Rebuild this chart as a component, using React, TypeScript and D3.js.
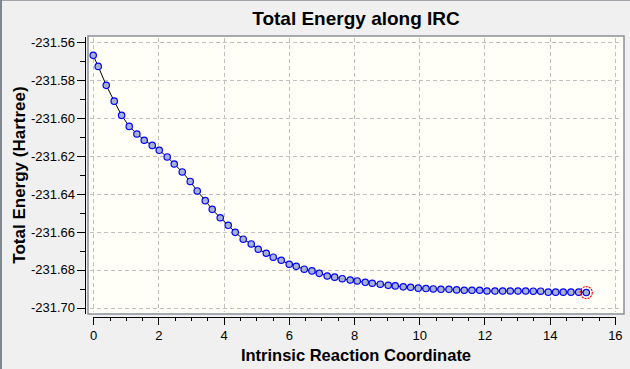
import React from "react";
import * as d3 from "d3";

const W = 630;
const H = 369;

// IRC coordinate and total energy (Hartree)
const coords = [
  0.0, 0.153, 0.399, 0.644, 0.871, 1.104, 1.34, 1.564, 1.81, 2.025, 2.27,
  2.485, 2.73, 2.975, 3.19, 3.436, 3.65, 3.896, 4.141, 4.356, 4.601, 4.847,
  5.061, 5.307, 5.521, 5.767, 6.012, 6.227, 6.472, 6.709, 6.933, 7.178, 7.405,
  7.638, 7.883, 8.098, 8.344, 8.558, 8.804, 9.049, 9.264, 9.509, 9.736, 9.969,
  10.206, 10.429, 10.666, 10.911, 11.147, 11.38, 11.617, 11.853, 12.077,
  12.322, 12.558, 12.791, 13.028, 13.264, 13.497, 13.724, 13.957, 14.184,
  14.417, 14.653, 14.89, 15.123,
];
const energies = [
  -231.567, -231.5728, -231.5828, -231.5911, -231.5986, -231.6044, -231.6084,
  -231.6117, -231.6144, -231.617, -231.6205, -231.6242, -231.6284, -231.6334,
  -231.6384, -231.6435, -231.6481, -231.6525, -231.6565, -231.6602, -231.6638,
  -231.6663, -231.6691, -231.6712, -231.6733, -231.6749, -231.677, -231.6781,
  -231.6796, -231.6805, -231.6818, -231.6832, -231.6838, -231.6846, -231.6853,
  -231.6858, -231.6865, -231.687, -231.6875, -231.6881, -231.6884, -231.6889,
  -231.6891, -231.6896, -231.6898, -231.69, -231.6902, -231.6902, -231.6905,
  -231.6907, -231.6907, -231.6907, -231.6911, -231.6911, -231.6911, -231.6911,
  -231.6911, -231.6911, -231.6912, -231.6912, -231.6917, -231.6917, -231.6917,
  -231.6917, -231.6917, -231.6919,
];
const xTicks = [0, 2, 4, 6, 8, 10, 12, 14, 16];
const yTicks = [-231.56, -231.58, -231.6, -231.62, -231.64, -231.66, -231.68, -231.7];

const plot = { left: 88, top: 36, right: 624, bottom: 314 };
const FONT = "'Liberation Sans', Arial, sans-serif";

export default function App() {
  const x = d3
    .scaleLinear()
    .domain([-0.16, 16.28])
    .range([plot.left, plot.right]);
  const y = d3
    .scaleLinear()
    .domain([-231.7032, -231.5568])
    .range([plot.bottom, plot.top]);

  const pts = coords.map((c, i) => [c, energies[i]] as [number, number]);
  const line = d3
    .line<[number, number]>()
    .x((d) => x(d[0]))
    .y((d) => y(d[1]));

  const xMinor = d3.range(0, 16.01, 0.5);
  const yMinor = d3.range(-231.7, -231.559, 0.01);
  const axisY = 317;
  const last = pts[pts.length - 1];
  // plain hyphen instead of d3's unicode minus
  const fmtY = (t: number) => t.toFixed(2);

  return (
    <svg
      width={W}
      height={H}
      style={{ position: "absolute", left: 0, top: 0, display: "block" }}
      fontFamily={FONT}
    >
      <rect width={W} height={H} fill="#f0f0f0" />
      <rect x={0} y={0} width={W} height={1} fill="#a0a4a8" />
      <rect x={0} y={0} width={2} height={H} fill="#7f8791" />

      <text
        x={(plot.left + plot.right) / 2}
        y={25}
        textAnchor="middle"
        fontWeight="bold"
        fontSize={19}
      >
        Total Energy along IRC
      </text>

      <rect
        x={plot.left}
        y={plot.top}
        width={plot.right - plot.left}
        height={plot.bottom - plot.top}
        fill="#fffff7"
        stroke="#8a9098"
        strokeWidth={1.5}
      />

      <g stroke="#c0c0c0" strokeDasharray="4,3" strokeWidth={1}>
        {yTicks.map((t) => (
          <line
            key={`gy${t}`}
            x1={plot.left + 2}
            x2={plot.right - 2}
            y1={Math.round(y(t)) + 0.5}
            y2={Math.round(y(t)) + 0.5}
          />
        ))}
        {xTicks.map((t) => (
          <line
            key={`gx${t}`}
            x1={Math.round(x(t)) + 0.5}
            x2={Math.round(x(t)) + 0.5}
            y1={plot.top + 2}
            y2={plot.bottom - 2}
          />
        ))}
      </g>

      {/* y axis */}
      <g stroke="#000" strokeWidth={1}>
        <line x1={85.5} x2={85.5} y1={plot.top + 1} y2={plot.bottom} />
        {yMinor.map((t, i) => (
          <line
            key={`ym${i}`}
            x1={i % 2 === 0 ? 77 : 80}
            x2={86}
            y1={Math.round(y(t)) + 0.5}
            y2={Math.round(y(t)) + 0.5}
          />
        ))}
      </g>
      <g fontSize={13} textAnchor="end" fill="#000">
        {yTicks.map((t) => (
          <text key={`yl${t}`} x={75} y={y(t)} dy="0.35em">
            {fmtY(t)}
          </text>
        ))}
      </g>

      {/* x axis */}
      <g stroke="#000" strokeWidth={1}>
        <line x1={x(0)} x2={x(16) + 1} y1={axisY + 0.5} y2={axisY + 0.5} />
        {xMinor.map((t, i) => (
          <line
            key={`xm${i}`}
            x1={Math.round(x(t)) + 0.5}
            x2={Math.round(x(t)) + 0.5}
            y1={axisY}
            y2={t % 2 === 0 ? axisY + 8 : axisY + 4}
          />
        ))}
      </g>
      <g fontSize={13} textAnchor="middle" fill="#000">
        {xTicks.map((t) => (
          <text key={`xl${t}`} x={x(t) + 0.5} y={340}>
            {t}
          </text>
        ))}
      </g>

      <text
        x={(plot.left + plot.right) / 2}
        y={361}
        textAnchor="middle"
        fontWeight="bold"
        fontSize={16.5}
      >
        Intrinsic Reaction Coordinate
      </text>
      <text
        transform={`translate(25,${(plot.top + plot.bottom) / 2}) rotate(-90)`}
        textAnchor="middle"
        fontWeight="bold"
        fontSize={17}
      >
        Total Energy (Hartree)
      </text>

      <path d={line(pts) || ""} fill="none" stroke="#000" strokeWidth={1} />
      <g fill="#a8b4cc" stroke="#0000ff" strokeWidth={1.2}>
        {pts.map((p, i) => (
          <circle key={`p${i}`} cx={x(p[0])} cy={y(p[1])} r={3.2} />
        ))}
      </g>
      <circle
        cx={x(last[0])}
        cy={y(last[1])}
        r={6}
        fill="none"
        stroke="#ff0000"
        strokeWidth={1.2}
        strokeDasharray="2,1"
      />
    </svg>
  );
}
